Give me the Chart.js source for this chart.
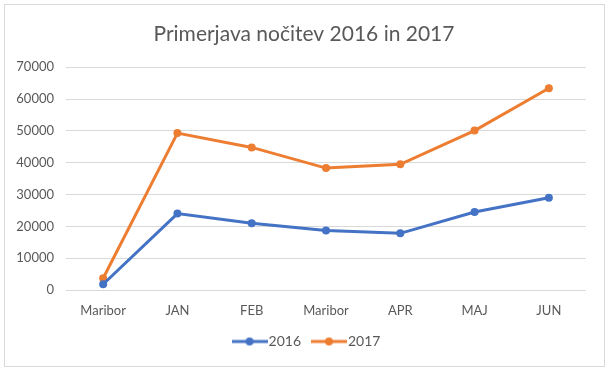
<!DOCTYPE html>
<html>
<head>
<meta charset="utf-8">
<script src="https://cdn.jsdelivr.net/npm/chart.js@4/dist/chart.umd.min.js"></script>
<style>
  html, body { margin: 0; padding: 0; background: #ffffff; }
  #wrap { position: relative; width: 608px; height: 372px; }
</style>
</head>
<body>
<div id="wrap"><canvas id="c" width="608" height="372"></canvas></div>
<script>
const categories = ['Maribor', 'JAN', 'FEB', 'Maribor', 'APR', 'MAJ', 'JUN'];
const values2016 = [1800, 24000, 21000, 18700, 17800, 24500, 29000];
const values2017 = [3700, 49300, 44800, 38300, 39500, 50100, 63400];
const seriesNames = ['2016', '2017'];
const titleText = 'Primerjava nočitev 2016 in 2017';

const BLUE = '#4472C4';
const ORANGE = '#ED7D31';
const TEXT = '#595959';
const FONT = 'Lato';

function legendIcon(color) {
  const c = document.createElement('canvas');
  c.width = 36; c.height = 10;
  const g = c.getContext('2d');
  g.strokeStyle = color; g.lineWidth = 3;
  g.beginPath(); g.moveTo(0, 5); g.lineTo(36, 5); g.stroke();
  g.fillStyle = color;
  g.beginPath(); g.arc(18, 5, 4, 0, Math.PI * 2); g.fill();
  return c;
}

const borderPlugin = {
  id: 'frame',
  beforeDraw(chart) {
    const ctx = chart.ctx;
    ctx.save();
    ctx.fillStyle = '#ffffff';
    ctx.fillRect(0, 0, chart.width, chart.height);
    ctx.strokeStyle = '#d9d9d9';
    ctx.lineWidth = 1;
    ctx.strokeRect(4.5, 4.5, 600, 362);
    ctx.restore();
  },
  afterLayout(chart) {
    if (chart.legend) { chart.legend.left += 5; chart.legend.right += 5; }
  }
};

new Chart(document.getElementById('c'), {
  type: 'line',
  data: {
    labels: categories,
    datasets: [
      { label: seriesNames[0], data: values2016, borderColor: BLUE, backgroundColor: BLUE,
        borderWidth: 3, pointRadius: 4, pointHoverRadius: 4, pointBackgroundColor: BLUE, pointBorderWidth: 0, tension: 0 },
      { label: seriesNames[1], data: values2017, borderColor: ORANGE, backgroundColor: ORANGE,
        borderWidth: 3, pointRadius: 4, pointHoverRadius: 4, pointBackgroundColor: ORANGE, pointBorderWidth: 0, tension: 0 }
    ]
  },
  options: {
    responsive: false,
    animation: false,
    layout: { padding: { left: 0, right: 0, top: 0, bottom: 13.5 } },
    plugins: {
      title: {
        display: true, text: titleText, color: TEXT,
        font: { family: FONT, size: 21, weight: 'normal' },
        padding: { top: 22, bottom: 20 }
      },
      legend: {
        position: 'bottom',
        labels: {
          color: TEXT, font: { family: FONT, size: 14 },
          usePointStyle: true, pointStyleWidth: 24, padding: 16,
          generateLabels(chart) {
            const items = Chart.defaults.plugins.legend.labels.generateLabels(chart);
            items.forEach((it, i) => { it.pointStyle = legendIcon(i === 0 ? BLUE : ORANGE); });
            return items;
          }
        }
      },
      tooltip: { enabled: false }
    },
    scales: {
      x: {
        offset: true,
        grid: { display: false, drawTicks: false },
        border: { display: false },
        ticks: { color: TEXT, font: { family: FONT, size: 13 }, padding: 13, maxRotation: 0, autoSkip: false },
        afterFit(scale) { scale.height = 28.5; }
      },
      y: {
        min: 0, max: 70000,
        grid: { color: '#d9d9d9', lineWidth: 1, drawTicks: false },
        border: { display: false },
        ticks: { stepSize: 10000, color: TEXT, font: { family: FONT, size: 13 }, padding: 12,
                 callback: (v) => String(v) },
        afterFit(scale) { scale.width = 66; }
      },
      yRight: {
        position: 'right',
        display: true,
        grid: { display: false, drawTicks: false },
        border: { display: false },
        ticks: { display: false },
        afterFit(scale) { scale.width = 22; }
      }
    }
  },
  plugins: [borderPlugin]
});
</script>
</body>
</html>
